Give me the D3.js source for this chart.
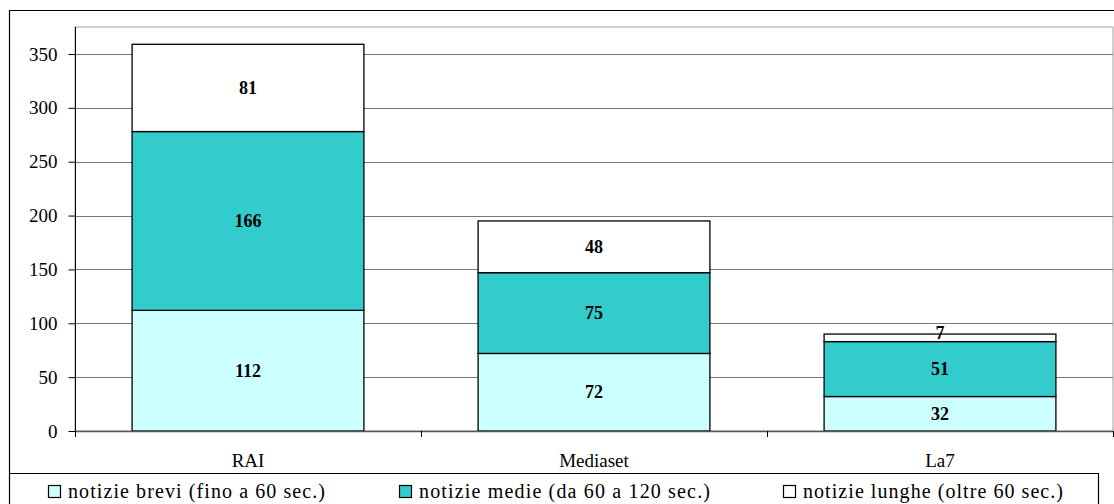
<!DOCTYPE html>
<html>
<head>
<meta charset="utf-8">
<script src="https://cdn.jsdelivr.net/npm/d3@7"></script>
<style>
  html, body { margin: 0; padding: 0; background: #fff; }
  svg { display: block; }
  text { font-family: "Liberation Serif", "DejaVu Serif", serif; fill: #000; }
</style>
</head>
<body>
<svg id="chart" width="1114" height="504"></svg>
<script>
const categories = ["RAI", "Mediaset", "La7"];
const seriesNames = ["notizie brevi (fino a 60 sec.)", "notizie medie (da 60 a 120 sec.)", "notizie lunghe (oltre 60 sec.)"];
const brevi = [112, 72, 32];
const medie = [166, 75, 51];
const lunghe = [81, 48, 7];
const yTicks = [0, 50, 100, 150, 200, 250, 300, 350];
const colors = ["#CCFFFF", "#33CCCC", "#FFFFFF"];

const svg = d3.select("#chart");
const W = 1114, H = 504;
const plot = { left: 75, right: 1113, top: 27, bottom: 431 };

const x = d3.scaleBand().domain(categories).range([plot.left, plot.right])
  .paddingInner(0.33).paddingOuter(0.165);
const y = d3.scaleLinear().domain([0, 350]).range([plot.bottom, 54]);

// outer chart border (cropped on right/bottom)
svg.append("line").attr("x1", 9).attr("x2", W + 2).attr("y1", 10.5).attr("y2", 10.5)
  .attr("stroke", "#000").attr("stroke-width", 1.2);
svg.append("line").attr("x1", 9.5).attr("x2", 9.5).attr("y1", 10).attr("y2", H + 2)
  .attr("stroke", "#000").attr("stroke-width", 1.2);

// plot area border
svg.append("rect").attr("x", plot.left).attr("y", plot.top)
  .attr("width", plot.right - plot.left).attr("height", plot.bottom - plot.top)
  .attr("fill", "none").attr("stroke", "#a0a0a0").attr("stroke-width", 1);

// gridlines
svg.append("g").selectAll("line").data(yTicks.filter(d => d > 0)).join("line")
  .attr("x1", plot.left).attr("x2", plot.right)
  .attr("y1", d => Math.round(y(d)) + 0.5).attr("y2", d => Math.round(y(d)) + 0.5)
  .attr("stroke", "#777").attr("stroke-width", 1);

// stacked bars
const table = categories.map((c, i) => ({ cat: c, brevi: brevi[i], medie: medie[i], lunghe: lunghe[i] }));
const stack = d3.stack().keys(["brevi", "medie", "lunghe"])(table);

const gBars = svg.append("g");
stack.forEach((layer, li) => {
  gBars.append("g").selectAll("rect").data(layer).join("rect")
    .attr("x", d => x(d.data.cat))
    .attr("y", d => y(d[1]))
    .attr("width", x.bandwidth())
    .attr("height", d => y(d[0]) - y(d[1]))
    .attr("fill", colors[li])
    .attr("stroke", "#000").attr("stroke-width", 1.3);
});

// data labels
stack.forEach((layer, li) => {
  svg.append("g").selectAll("text").data(layer).join("text")
    .attr("x", d => x(d.data.cat) + x.bandwidth() / 2)
    .attr("y", d => {
      const mid = (y(d[0]) + y(d[1])) / 2;
      const h = y(d[0]) - y(d[1]);
      return h < 14 ? y(d[1]) + 5 : mid + 6;
    })
    .attr("text-anchor", "middle")
    .attr("font-size", 18).attr("font-weight", "bold")
    .text(d => d[1] - d[0]);
});

// y axis
const yAxis = d3.axisLeft(y).tickValues(yTicks).tickSize(7).tickPadding(11).tickSizeOuter(0);
const gy = svg.append("g").attr("transform", `translate(${plot.left + 0.5},0)`).call(yAxis);
gy.attr("font-family", null);
gy.select(".domain").attr("d", `M0,${plot.top}V${plot.bottom + 6}`).attr("stroke", "#000");
gy.selectAll(".tick line").attr("stroke", "#000");
gy.selectAll(".tick text").attr("font-size", 19).attr("fill", "#000");

// x axis
const bounds = d3.range(categories.length + 1).map(i => plot.left + i * x.step());
svg.append("line").attr("x1", plot.left).attr("x2", plot.right)
  .attr("y1", plot.bottom + 0.5).attr("y2", plot.bottom + 0.5)
  .attr("stroke", "#555").attr("stroke-width", 1.3);
svg.append("g").selectAll("line").data(bounds).join("line")
  .attr("x1", d => Math.round(d) + 0.5).attr("x2", d => Math.round(d) + 0.5)
  .attr("y1", plot.bottom).attr("y2", plot.bottom + 6)
  .attr("stroke", "#000");
svg.append("g").selectAll("text").data(categories).join("text")
  .attr("x", d => x(d) + x.bandwidth() / 2)
  .attr("y", 467)
  .attr("text-anchor", "middle")
  .attr("font-size", 19)
  .text(d => d);

// legend
svg.append("path")
  .attr("d", `M9,473.5H1098.5V${H + 2}`)
  .attr("fill", "none").attr("stroke", "#000").attr("stroke-width", 1.2);
const legendX = [48, 399, 783];
const legendW = [257, 291, 260];
seriesNames.forEach((name, i) => {
  const g = svg.append("g").attr("transform", `translate(${legendX[i]},0)`);
  g.append("rect").attr("x", 0.5).attr("y", 485.5).attr("width", 12).attr("height", 12)
    .attr("fill", colors[i]).attr("stroke", "#000").attr("stroke-width", 1.2);
  g.append("text").attr("x", 20).attr("y", 497.5)
    .attr("font-size", 20)
    .attr("textLength", legendW[i]).attr("lengthAdjust", "spacing")
    .text(name);
});
</script>
</body>
</html>
